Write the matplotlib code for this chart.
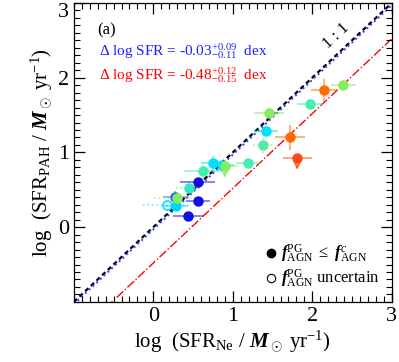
import matplotlib
matplotlib.use("Agg")
import matplotlib.pyplot as plt
from matplotlib.lines import Line2D
from matplotlib.ticker import MultipleLocator
import numpy as np

plt.rcParams['font.family'] = ['Liberation Serif', 'DejaVu Serif']
plt.rcParams['mathtext.fontset'] = 'custom'
plt.rcParams['mathtext.rm'] = 'Liberation Serif'
plt.rcParams['mathtext.it'] = 'Liberation Serif:italic'
plt.rcParams['mathtext.bf'] = 'Liberation Serif:italic:bold'

# points : x, y, erreurs, couleur, style
x_ne = [0.44, 0.564, 0.27, 0.556, 0.29, 0.45, 0.30, 0.627, 0.752, 0.86, 0.90,
        1.19, 1.38, 1.42, 1.457, 1.97, 2.39, 1.717, 1.81, 2.145, 0.166]
y_pah = [0.155, 0.35, 0.41, 0.60, 0.284, 0.53, 0.395, 0.757, 0.855, 0.83, 0.823,
         0.864, 1.10, 1.28, 1.524, 1.65, 1.90, 1.203, 0.93, 1.836, 0.30]
x_err = [0.19, 0.15, 0.15, 0.22, 0.15, 0.17, 0.29, 0.24, 0.15, 0.15, 0.17,
         0.15, 0.13, 0.15, 0.19, 0.16, 0.16, 0.19, 0.18, 0.16, 0.29]
y_err = [0.05, 0.05, 0.08, 0.05, 0.07, 0.06, 0.07, 0.08, 0.1, 0.05, 0.05,
         0.05, 0.11, 0.06, 0.07, 0.05, 0.07, 0.17, 0.0, 0.15, 0.08]
couleurs = ['#1010e0', '#1010e0', '#1a6cf0', '#1010e0', '#00d8f8', '#30e8c8',
            '#88ec60', '#40f0b0', '#00e0f8', '#00e0f8', '#88ec60',
            '#40f0b0', '#5ae8a0', '#00e0f8', '#88ec60', '#40f0b0', '#88ec60',
            '#ff6a00', '#ff4a10', '#ff6a00', '#00e0f8']
pointille = [False, False, False, False, False, True, True, False, False, False, False,
             False, True, False, False, False, False, False, False, False, True]
limite_sup = [False, False, False, False, False, False, False, False, False, False, True,
              False, False, False, False, False, False, False, True, False, False]
ouvert = [False] * 20 + [True]

fig = plt.figure(figsize=(3.99, 3.62), dpi=100)
ax = fig.add_axes([0.185, 0.166, 0.797, 0.826])

xx = np.array([-1, 3])
ax.plot(xx, xx, color='black', lw=1.6, dashes=(2, 1.5), zorder=1)
ax.plot(xx, xx - 0.03, color='#3040ff', lw=1.4, ls=':', zorder=1)
ax.plot(xx, xx - 0.48, color='red', lw=1.0, ls='-.', zorder=1)

for i in range(len(x_ne)):
    c = couleurs[i]
    eb = ax.errorbar(x_ne[i], y_pah[i], xerr=x_err[i], yerr=y_err[i] if not limite_sup[i] else None,
                     fmt='none', ecolor=c, elinewidth=1.2, alpha=0.6, zorder=2)
    if pointille[i]:
        for l in eb[2]:
            l.set_linestyle(':')
    if limite_sup[i]:
        ax.annotate('', xy=(x_ne[i], y_pah[i] - 0.2), xytext=(x_ne[i], y_pah[i]),
                    arrowprops=dict(arrowstyle='->', color=c, lw=1.2, alpha=0.8), zorder=2)
    if ouvert[i]:
        ax.plot(x_ne[i], y_pah[i], 'o', ms=6.5, mfc='none', mec=c, mew=1.2, zorder=3)
    else:
        ax.plot(x_ne[i], y_pah[i], 'o', ms=6.5, color=c, zorder=3)

ax.set_xlim(-1, 3)
ax.set_ylim(-1, 3)
ax.xaxis.set_minor_locator(MultipleLocator(0.1))
ax.yaxis.set_minor_locator(MultipleLocator(0.1))
ax.tick_params(which='both', direction='in', top=True, right=True, labelsize=16)
ax.tick_params(which='major', length=8, width=0.9)
ax.tick_params(which='minor', length=4, width=0.8)
ax.set_xticks([0, 1, 2, 3])
ax.set_yticks([0, 1, 2, 3])
ax.get_yticklabels()[-1].set_va('top')
for s in ax.spines.values():
    s.set_linewidth(0.9)

ax.set_xlabel(r'log  (SFR$_{\rm Ne}$ / $\mathbf{M}_\odot$ yr$^{-1}$)', fontsize=15, labelpad=2)
ax.set_ylabel(r'log  (SFR$_{\rm PAH}$ / $\mathbf{M}_\odot$ yr$^{-1}$)', fontsize=15, labelpad=2)

ax.text(-0.71, 2.63, '(a)', fontsize=12, va='center')
ax.text(-0.68, 2.35, r'$\Delta$ log SFR = -0.03$^{+0.09}_{-0.11}$  dex', fontsize=11,
        color='#2020ff', va='center')
ax.text(-0.68, 2.03, r'$\Delta$ log SFR = -0.48$^{+0.12}_{-0.15}$  dex', fontsize=11,
        color='red', va='center')
ax.text(2.3, 2.56, '1 : 1', fontsize=12, rotation=43, ha='center', va='center')

poignees = [Line2D([], [], marker='o', ls='none', color='black', ms=6),
            Line2D([], [], marker='o', ls='none', mfc='none', mec='black', ms=6, mew=0.8)]
ax.legend(poignees, [r'$\mathbf{f}^{\rm PG}_{\rm AGN}$ $\leq$ $\mathbf{f}^{c}_{\rm AGN}$',
                     r'$\mathbf{f}^{\rm PG}_{\rm AGN}$ uncertain'],
          loc='lower right', frameon=False, fontsize=12, handletextpad=0.1,
          handlelength=1.0, borderaxespad=0.3, labelspacing=0.2)

fig.savefig('out.png', dpi=100)
